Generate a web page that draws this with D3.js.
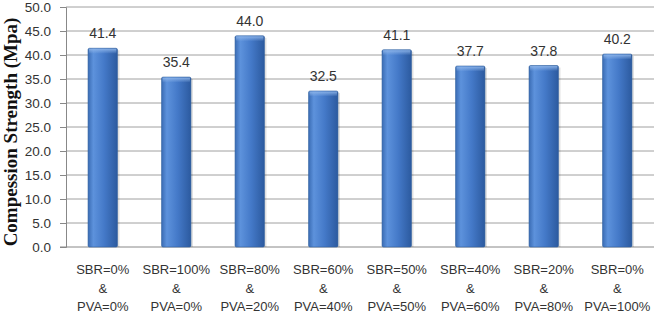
<!DOCTYPE html>
<html>
<head>
<meta charset="utf-8">
<script src="https://cdn.jsdelivr.net/npm/d3@7"></script>
<style>
  body { margin: 0; background: #fff; }
  svg { display: block; }
</style>
</head>
<body>
<svg id="chart"></svg>
<script>
const sbrLabels = ['SBR=0%', 'SBR=100%', 'SBR=80%', 'SBR=60%', 'SBR=50%', 'SBR=40%', 'SBR=20%', 'SBR=0%'];
const pvaLabels = ['PVA=0%', 'PVA=0%', 'PVA=20%', 'PVA=40%', 'PVA=50%', 'PVA=60%', 'PVA=80%', 'PVA=100%'];
const strength = [41.4, 35.4, 44.0, 32.5, 41.1, 37.7, 37.8, 40.2];
const yTicks = [0, 5, 10, 15, 20, 25, 30, 35, 40, 45, 50];

const W = 657, H = 318;
const margin = { top: 7, right: 3, bottom: 71, left: 66 };
const width = W - margin.left - margin.right;
const height = H - margin.top - margin.bottom;

const svg = d3.select('#chart').attr('width', W).attr('height', H);

const defs = svg.append('defs');
const grad = defs.append('linearGradient').attr('id', 'barGrad')
    .attr('x1', '0%').attr('x2', '100%').attr('y1', '0%').attr('y2', '0%');
grad.append('stop').attr('offset', '0%').attr('stop-color', '#3a6cb4');
grad.append('stop').attr('offset', '18%').attr('stop-color', '#5d92dc');
grad.append('stop').attr('offset', '55%').attr('stop-color', '#4479c8');
grad.append('stop').attr('offset', '100%').attr('stop-color', '#2c5a9f');

const topGrad = defs.append('linearGradient').attr('id', 'topGrad')
    .attr('x1', '0%').attr('x2', '0%').attr('y1', '0%').attr('y2', '100%');
topGrad.append('stop').attr('offset', '0%').attr('stop-color', '#8fb6ea').attr('stop-opacity', 0.9);
topGrad.append('stop').attr('offset', '100%').attr('stop-color', '#8fb6ea').attr('stop-opacity', 0);

const g = svg.append('g').attr('transform', `translate(${margin.left},${margin.top})`);

const x = d3.scaleBand()
    .domain(d3.range(strength.length))
    .range([0, width])
    .paddingInner(0.6)
    .paddingOuter(0.3);

const y = d3.scaleLinear().domain([0, 50]).range([height, 0]);

// gridlines
g.append('g')
    .selectAll('line')
    .data(yTicks.slice(1))
    .enter().append('line')
    .attr('x1', 0).attr('x2', width)
    .attr('y1', d => y(d)).attr('y2', d => y(d))
    .attr('stroke', '#a0a0a0')
    .attr('stroke-width', 1);

// y axis
const yAxis = g.append('g')
    .call(d3.axisLeft(y).tickValues(yTicks).tickFormat(d3.format('.1f')).tickSize(6).tickPadding(9));
yAxis.select('.domain').attr('stroke', '#888');
yAxis.selectAll('.tick line').attr('stroke', '#888');
yAxis.selectAll('text')
    .attr('fill', '#333')
    .style('font-family', '"Liberation Sans", Arial, sans-serif')
    .style('font-size', '13.5px');

// x axis baseline
g.append('line')
    .attr('x1', -6).attr('x2', width)
    .attr('y1', height).attr('y2', height)
    .attr('stroke', '#888');

// bars
const bars = g.selectAll('.bar')
    .data(strength)
    .enter().append('g')
    .attr('class', 'bar');

bars.append('rect')
    .attr('x', (d, i) => x(i) + 2)
    .attr('y', d => y(d) + 2)
    .attr('width', x.bandwidth())
    .attr('height', d => height - y(d) - 2)
    .attr('fill', '#000')
    .attr('opacity', 0.12);

bars.append('rect')
    .attr('x', (d, i) => x(i))
    .attr('y', d => y(d))
    .attr('width', x.bandwidth())
    .attr('height', d => height - y(d))
    .attr('rx', 1.5)
    .attr('fill', 'url(#barGrad)')
    .attr('stroke', '#2f5f9e')
    .attr('stroke-width', 0.6);

bars.append('rect')
    .attr('x', (d, i) => x(i) + 1)
    .attr('y', d => y(d) + 0.5)
    .attr('width', x.bandwidth() - 2)
    .attr('height', 5)
    .attr('fill', 'url(#topGrad)');

// value labels
g.selectAll('.val')
    .data(strength)
    .enter().append('text')
    .attr('class', 'val')
    .attr('x', (d, i) => x(i) + x.bandwidth() / 2)
    .attr('y', d => y(d) - 10)
    .attr('text-anchor', 'middle')
    .attr('fill', '#333')
    .style('font-family', '"Liberation Sans", Arial, sans-serif')
    .style('font-size', '14px')
    .text(d => d.toFixed(1));

// category labels
const cat = g.selectAll('.cat')
    .data(strength)
    .enter().append('text')
    .attr('class', 'cat')
    .attr('text-anchor', 'middle')
    .attr('fill', '#333')
    .style('font-family', '"Liberation Sans", Arial, sans-serif')
    .style('font-size', '13px')
    .attr('transform', (d, i) => `translate(${x(i) + x.bandwidth() / 2},${height})`);

cat.append('tspan').attr('x', 0).attr('y', 27).text((d, i) => sbrLabels[i]);
cat.append('tspan').attr('x', 0).attr('y', 45.5).text('&');
cat.append('tspan').attr('x', 0).attr('y', 64).text((d, i) => pvaLabels[i]);

// y axis title
svg.append('text')
    .attr('transform', `translate(17,132) rotate(-90)`)
    .attr('text-anchor', 'middle')
    .attr('fill', '#111')
    .style('font-family', '"Liberation Serif", "Times New Roman", serif')
    .style('font-weight', 'bold')
    .style('font-size', '19px')
    .text('Compession Strength (Mpa)');
</script>
</body>
</html>
